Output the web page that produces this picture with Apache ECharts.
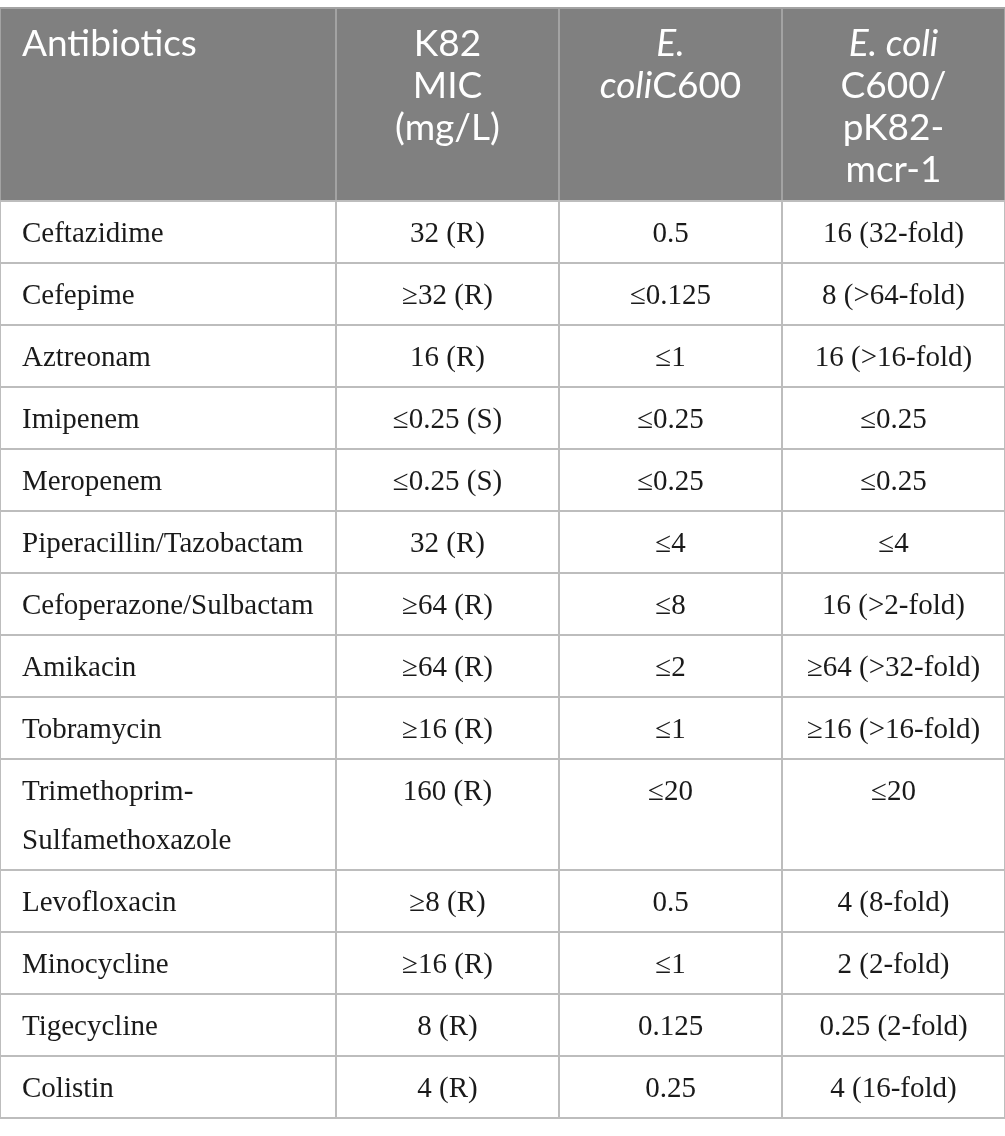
<!DOCTYPE html>
<html>
<head>
<meta charset="utf-8">
<script src="https://cdn.jsdelivr.net/npm/echarts@6/dist/echarts.min.js"></script>
<style>
html,body{margin:0;padding:0;background:#fff;}
#chart{width:1005px;height:1136px;}
</style>
</head>
<body>
<div id="chart"></div>
<script>
// ---- table content ----
const headers = [
  'Antibiotics',
  'K82\nMIC\n(mg/L)',
  '{i|E.}\n{i|coli}C600',
  '{i|E. coli}\nC600/\npK82-\nmcr-1'
];
const antibiotics = [
  'Ceftazidime', 'Cefepime', 'Aztreonam', 'Imipenem', 'Meropenem',
  'Piperacillin/Tazobactam', 'Cefoperazone/Sulbactam', 'Amikacin', 'Tobramycin',
  'Trimethoprim-\nSulfamethoxazole', 'Levofloxacin', 'Minocycline', 'Tigecycline', 'Colistin'
];
const k82MIC = [
  '32 (R)', '≥32 (R)', '16 (R)', '≤0.25 (S)', '≤0.25 (S)', '32 (R)', '≥64 (R)',
  '≥64 (R)', '≥16 (R)', '160 (R)', '≥8 (R)', '≥16 (R)', '8 (R)', '4 (R)'
];
const ecoliC600 = [
  '0.5', '≤0.125', '≤1', '≤0.25', '≤0.25', '≤4', '≤8',
  '≤2', '≤1', '≤20', '0.5', '≤1', '0.125', '0.25'
];
const ecoliC600pK82 = [
  '16 (32-fold)', '8 (>64-fold)', '16 (>16-fold)', '≤0.25', '≤0.25', '≤4', '16 (>2-fold)',
  '≥64 (>32-fold)', '≥16 (>16-fold)', '≤20', '4 (8-fold)', '2 (2-fold)', '0.25 (2-fold)', '4 (16-fold)'
];

// ---- layout (pixels in a 1005 x 1136 coordinate space) ----
const W = 1005, H = 1136;
const colEdges = [0, 336, 559, 782, 1005];
const headerTop = 8, headerBottom = 201;
const baseRowH = 62, extraLineH = 49;

const columns = [antibiotics, k82MIC, ecoliC600, ecoliC600pK82];
const rowEdges = [headerTop, headerBottom];
antibiotics.forEach(function (name) {
  const lines = name.split('\n').length;
  rowEdges.push(rowEdges[rowEdges.length - 1] + baseRowH + (lines - 1) * extraLineH);
});

// cells: [col, row, text]; row 0 = header
const cells = [];
headers.forEach(function (h, c) { cells.push([c, 0, h]); });
antibiotics.forEach(function (_, r) {
  columns.forEach(function (col, c) { cells.push([c, r + 1, col[r]]); });
});

function renderCell(params, api) {
  const c = api.value(0), r = api.value(1);
  const text = cells[params.dataIndex][2];
  const p0 = api.coord([colEdges[c], rowEdges[r]]);
  const p1 = api.coord([colEdges[c + 1], rowEdges[r + 1]]);
  const isHeader = r === 0;
  const left = c === 0;
  const tx = left ? p0[0] + 22 : (p0[0] + p1[0]) / 2;
  const children = [{
    type: 'rect',
    shape: { x: p0[0], y: p0[1], width: p1[0] - p0[0], height: p1[1] - p0[1] },
    style: {
      fill: isHeader ? '#808080' : '#ffffff',
      stroke: isHeader ? '#a3a3a3' : '#bdbdbd',
      lineWidth: 2
    }
  }];
  children.push({
    type: 'text',
    z2: 10,
    style: isHeader ? {
      text: text,
      x: tx, y: p0[1] + 15,
      align: left ? 'left' : 'center',
      verticalAlign: 'top',
      fill: '#ffffff',
      fontFamily: 'Lato',
      fontSize: 37,
      lineHeight: 42,
      rich: {
        i: { fontStyle: 'italic', fontFamily: 'Lato', fontSize: 37, lineHeight: 42, fill: '#ffffff' }
      }
    } : {
      text: text,
      x: tx, y: p0[1] + 9,
      align: left ? 'left' : 'center',
      verticalAlign: 'top',
      fill: '#1a1a1a',
      fontFamily: 'Liberation Serif',
      fontSize: 29,
      lineHeight: 49
    }
  });
  return { type: 'group', children: children };
}

const chart = echarts.init(document.getElementById('chart'), null, { renderer: 'canvas' });
chart.setOption({
  animation: false,
  backgroundColor: '#ffffff',
  grid: { left: 0, right: 0, top: 0, bottom: 0 },
  xAxis: { type: 'value', min: 0, max: W, show: false },
  yAxis: { type: 'value', min: 0, max: H, inverse: true, show: false },
  series: [{
    type: 'custom',
    coordinateSystem: 'cartesian2d',
    renderItem: renderCell,
    data: cells.map(function (d) { return [d[0], d[1]]; }),
    clip: false
  }]
});
</script>
</body>
</html>
